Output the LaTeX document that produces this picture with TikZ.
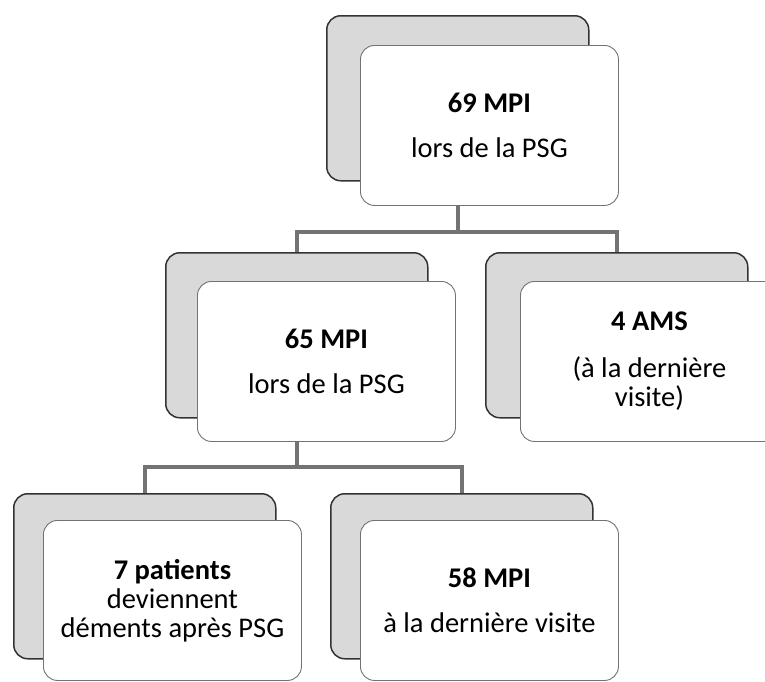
\documentclass[tikz,border=0pt]{standalone}
\usepackage{fontspec}
\setmainfont{Carlito}

\begin{document}
\begin{tikzpicture}[x=1pt,y=-1pt,
  backbox/.style={draw=black!80,line width=1.5pt,fill=black!15,rounded corners=14pt,
    minimum width=262pt,minimum height=165pt,anchor=north west,inner sep=0pt},
  frontbox/.style={draw=black!55,line width=0.9pt,fill=white,rounded corners=14pt,
    minimum width=258pt,minimum height=160pt,anchor=north west,inner sep=0pt,
    align=center,font=\fontsize{28.5}{29}\selectfont},
  link/.style={draw=black!55,line width=4pt}]
\useasboundingbox (0,0) rectangle (765,681);
\node[backbox] (topback) at (326,15) {};
\node[frontbox] (top) at (360,45) {\textbf{69 MPI}\\[16pt]lors de la PSG};
\node[backbox] (midlback) at (165,252) {};
\node[frontbox] (midl) at (197,281) {\textbf{65 MPI}\\[16pt]lors de la PSG};
\node[backbox] (midrback) at (485,252) {};
\node[frontbox] (midr) at (520,281) {\textbf{4 AMS}\\[18pt](à la dernière\\visite)};
\node[backbox] (botlback) at (13,493) {};
\node[frontbox] (botl) at (43,520) {\textbf{7 patients}\\deviennent\\déments après PSG};
\node[backbox] (botrback) at (330,493) {};
\node[frontbox] (botr) at (360,520) {\textbf{58 MPI}\\[16pt]à la dernière visite};
\draw[link] (topback.south |- top.south) -- ++(0,26) coordinate (topfork);
\draw[link] (midlback.north) |- (topfork) -| (midrback.north);
\draw[link] (midlback.south |- midl.south) -- ++(0,25) coordinate (midfork);
\draw[link] (botlback.north) |- (midfork) -| (botrback.north);
\end{tikzpicture}
\end{document}
